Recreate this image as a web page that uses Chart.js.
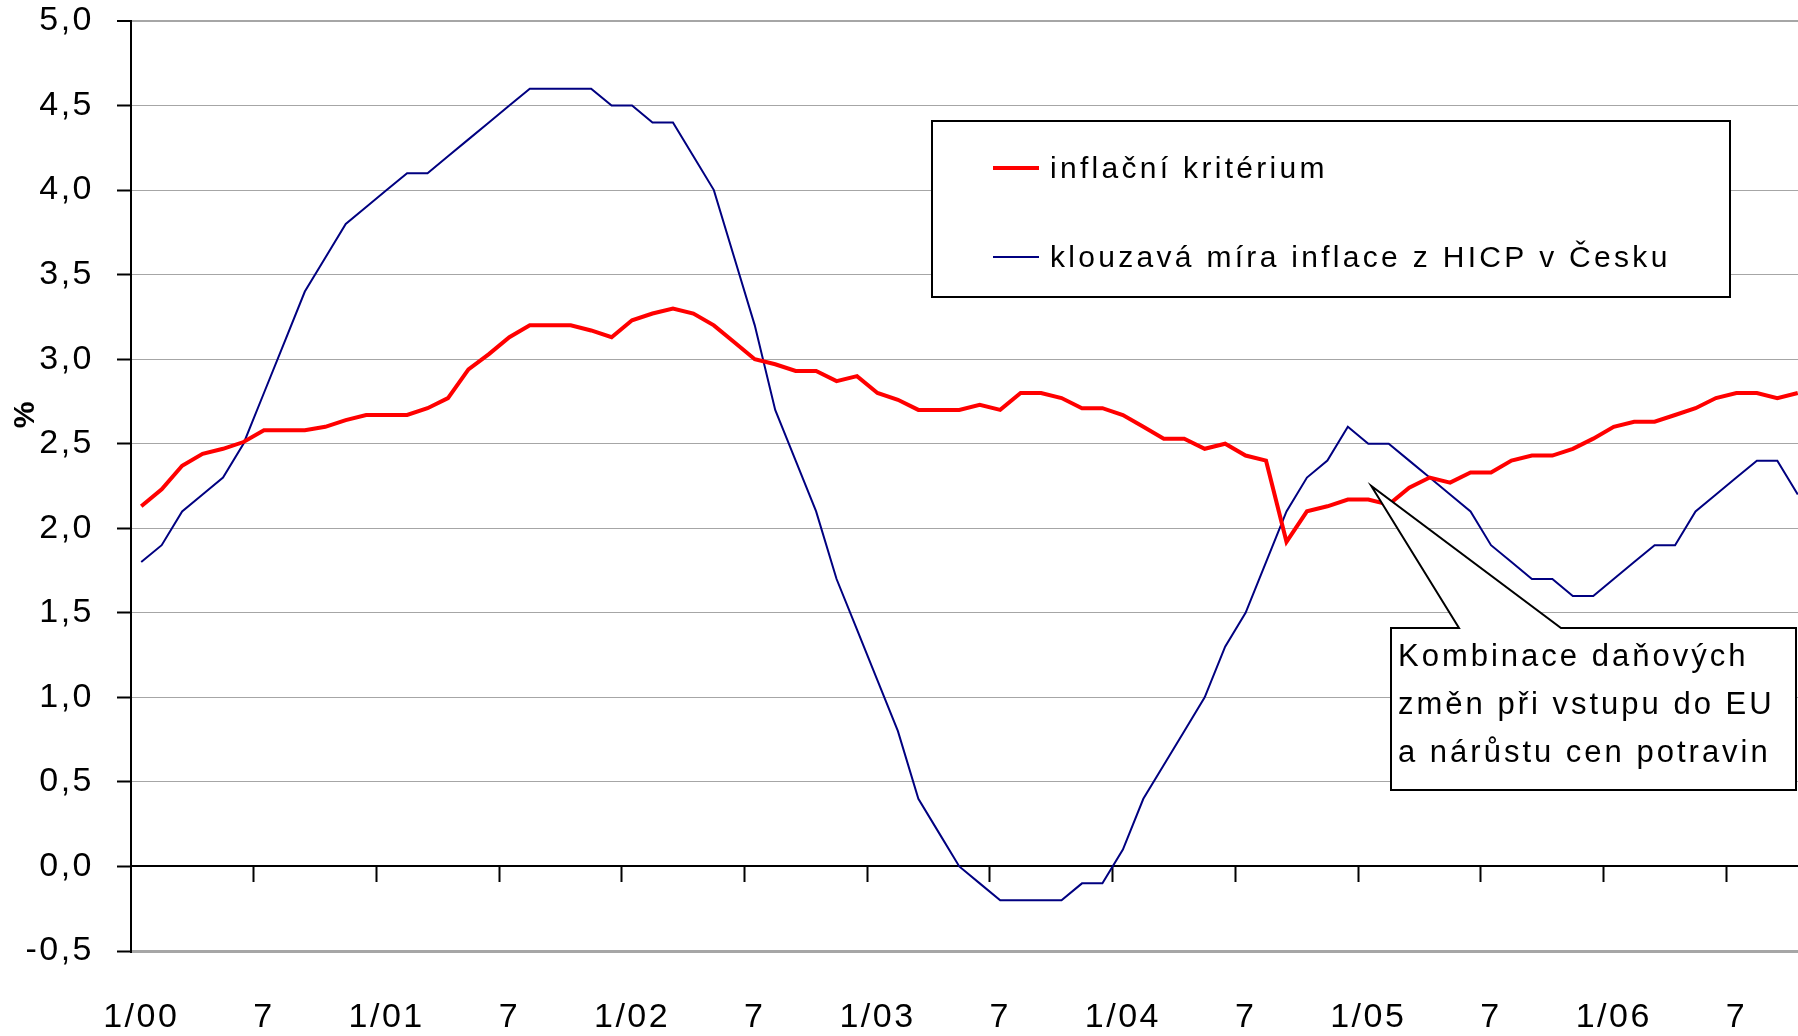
<!DOCTYPE html>
<html>
<head>
<meta charset="utf-8">
<script src="https://cdn.jsdelivr.net/npm/chart.js@4"></script>
<style>
  html, body { margin: 0; padding: 0; background: #fff; }
  /* the original picture is cut off a little on the right side */
  #wrap { width: 1798px; height: 1036px; overflow: hidden; position: relative; }
  #graf { position: absolute; left: 0; top: 0; }
</style>
</head>
<body>
<div id="wrap"><canvas id="graf" width="1808" height="1036"></canvas></div>
<script>
// months 1/2000 .. 10/2006
const months = [
  '1/00', '2/00', '3/00', '4/00', '5/00', '6/00', '7/00', '8/00', '9/00', '10/00', '11/00', '12/00',
  '1/01', '2/01', '3/01', '4/01', '5/01', '6/01', '7/01', '8/01', '9/01', '10/01', '11/01', '12/01',
  '1/02', '2/02', '3/02', '4/02', '5/02', '6/02', '7/02', '8/02', '9/02', '10/02', '11/02', '12/02',
  '1/03', '2/03', '3/03', '4/03', '5/03', '6/03', '7/03', '8/03', '9/03', '10/03', '11/03', '12/03',
  '1/04', '2/04', '3/04', '4/04', '5/04', '6/04', '7/04', '8/04', '9/04', '10/04', '11/04', '12/04',
  '1/05', '2/05', '3/05', '4/05', '5/05', '6/05', '7/05', '8/05', '9/05', '10/05', '11/05', '12/05',
  '1/06', '2/06', '3/06', '4/06', '5/06', '6/06', '7/06', '8/06', '9/06', '10/06'
];

// labels shown under the axis, one every 6 months
const axisLabels = ['1/00', '7', '1/01', '7', '1/02', '7', '1/03', '7', '1/04', '7', '1/05', '7', '1/06', '7'];

// inflační kritérium (%)
const kriterium = [
  2.13, 2.23, 2.37, 2.44, 2.47, 2.51, 2.58, 2.58, 2.58, 2.60, 2.64, 2.67,
  2.67, 2.67, 2.71, 2.77, 2.94, 3.03, 3.13, 3.20, 3.20, 3.20, 3.17, 3.13,
  3.23, 3.27, 3.30, 3.27, 3.20, 3.10, 3.00, 2.97, 2.93, 2.93, 2.87, 2.90,
  2.80, 2.76, 2.70, 2.70, 2.70, 2.73, 2.70, 2.80, 2.80, 2.77, 2.71, 2.71,
  2.67, 2.60, 2.53, 2.53, 2.47, 2.50, 2.43, 2.40, 1.92, 2.10, 2.13, 2.17,
  2.17, 2.14, 2.24, 2.30, 2.27, 2.33, 2.33, 2.40, 2.43, 2.43, 2.47, 2.53,
  2.60, 2.63, 2.63, 2.67, 2.71, 2.77, 2.80, 2.80, 2.77, 2.80
];

// klouzavá míra inflace z HICP v Česku (%)
const hicp = [
  1.8, 1.9, 2.1, 2.2, 2.3, 2.5, 2.8, 3.1, 3.4, 3.6, 3.8, 3.9,
  4.0, 4.1, 4.1, 4.2, 4.3, 4.4, 4.5, 4.6, 4.6, 4.6, 4.6, 4.5,
  4.5, 4.4, 4.4, 4.2, 4.0, 3.6, 3.2, 2.7, 2.4, 2.1, 1.7, 1.4,
  1.1, 0.8, 0.4, 0.2, 0.0, -0.1, -0.2, -0.2, -0.2, -0.2, -0.1, -0.1,
  0.1, 0.4, 0.6, 0.8, 1.0, 1.3, 1.5, 1.8, 2.1, 2.3, 2.4, 2.6,
  2.5, 2.5, 2.4, 2.3, 2.2, 2.1, 1.9, 1.8, 1.7, 1.7, 1.6, 1.6,
  1.7, 1.8, 1.9, 1.9, 2.1, 2.2, 2.3, 2.4, 2.4, 2.2
];

// callout text and the point it points at
const noteLines = ['Kombinace daňových', 'změn při vstupu do EU', 'a nárůstu cen potravin'];
const noteAt = { index: 60, value: 2.25 };

const FONT = '"Liberation Sans", Arial, sans-serif';

// legend box, callout and the "%" title, drawn by hand
const decor = {
  id: 'decor',
  beforeDraw(chart) {
    // the original text is spaced out a bit
    chart.ctx.letterSpacing = '2.5px';
  },
  afterDatasetsDraw(chart) {
    const ctx = chart.ctx;
    const xs = chart.scales.x, ys = chart.scales.y;
    ctx.save();

    // callout with a pointer to the start of 2005
    const ax = xs.getPixelForValue(noteAt.index) + 3;
    const ay = ys.getPixelForValue(noteAt.value);
    const bl = 1391, bt = 628, br = 1796, bb = 790;
    ctx.beginPath();
    ctx.moveTo(bl, bt);
    ctx.lineTo(1459, bt);
    ctx.lineTo(ax, ay);
    ctx.lineTo(1561, bt);
    ctx.lineTo(br, bt);
    ctx.lineTo(br, bb);
    ctx.lineTo(bl, bb);
    ctx.closePath();
    ctx.fillStyle = '#fff';
    ctx.fill();
    ctx.lineWidth = 2;
    ctx.strokeStyle = '#000';
    ctx.stroke();

    ctx.fillStyle = '#000';
    ctx.font = '31px ' + FONT;
    ctx.letterSpacing = '3px';
    ctx.textAlign = 'left';
    ctx.textBaseline = 'middle';
    noteLines.forEach((t, i) => ctx.fillText(t, 1398, 657 + i * 48));

    // legend
    ctx.fillStyle = '#fff';
    ctx.fillRect(932, 121, 798, 176);
    ctx.strokeRect(932, 121, 798, 176);
    ctx.font = '30px ' + FONT;
    ctx.letterSpacing = '3.3px';
    chart.data.datasets.forEach((ds, i) => {
      const ly = 168 + i * 89;
      ctx.beginPath();
      ctx.moveTo(993, ly);
      ctx.lineTo(1039, ly);
      ctx.strokeStyle = ds.borderColor;
      ctx.lineWidth = ds.borderWidth;
      ctx.stroke();
      ctx.fillStyle = '#000';
      ctx.fillText(ds.label, 1050, ly + 2);
    });

    // y axis title
    ctx.translate(26, ys.getPixelForValue(2.67));
    ctx.rotate(-Math.PI / 2);
    ctx.font = 'bold 30px ' + FONT;
    ctx.letterSpacing = '0px';
    ctx.textAlign = 'center';
    ctx.fillText('%', 0, 0);
    ctx.restore();
  }
};

let g_canvas = document.getElementById('graf');
let g_ctx = g_canvas.getContext('2d');

let data = {
  labels: months,
  datasets: [{
      label: 'inflační kritérium',
      data: kriterium,
      borderColor: '#ff0000',
      borderWidth: 4,
      pointRadius: 0,
      tension: 0
    },
    {
      label: 'klouzavá míra inflace z HICP v Česku',
      data: hicp,
      borderColor: '#000080',
      borderWidth: 2,
      pointRadius: 0,
      tension: 0
    }
  ]
};

let config = {
  type: 'line',
  data: data,
  options: {
    responsive: false,
    animation: false,
    devicePixelRatio: 1,
    layout: { padding: { top: 21, left: 0, right: 0, bottom: 0 } },
    plugins: {
      legend: { display: false },
      tooltip: { enabled: false }
    },
    scales: {
      // axis line at 0 with tick marks every 6 months
      x: {
        type: 'category',
        position: { y: 0 },
        offset: true,
        grid: {
          offset: true,
          drawOnChartArea: false,
          drawTicks: true,
          tickLength: 15,
          tickWidth: 2,
          tickColor: c => (c.index > 0 && c.index % 6 === 0) ? '#000' : 'rgba(0,0,0,0)'
        },
        border: { color: '#000', width: 2 },
        ticks: { display: false, autoSkip: false, padding: 0 },
        afterFit: s => { s.paddingTop = 0; s.paddingBottom = 0; }
      },
      // month labels at the bottom (invisible tick marks push them down)
      xl: {
        type: 'category',
        position: 'bottom',
        offset: true,
        grid: {
          drawOnChartArea: false,
          drawTicks: true,
          tickLength: 43,
          tickColor: 'rgba(0,0,0,0)'
        },
        border: { display: false },
        ticks: {
          autoSkip: false,
          maxRotation: 0,
          minRotation: 0,
          padding: 3,
          color: '#000',
          font: { family: FONT, size: 34 },
          callback: (v, i) => i % 6 === 0 ? axisLabels[i / 6] : ''
        },
        afterFit: s => { s.height = 85; }
      },
      y: {
        min: -0.5,
        max: 5.0,
        ticks: {
          stepSize: 0.5,
          padding: 23,
          color: '#000',
          font: { family: FONT, size: 34 },
          callback: v => v.toFixed(1).replace('.', ',')
        },
        grid: {
          color: c => (c.tick && c.tick.value === 0) ? '#000' : '#a6a6a6',
          lineWidth: c => {
            if (!c.tick) return 1;
            if (c.tick.value === -0.5) return 3;
            if (c.tick.value === 5) return 2;
            return 1;
          },
          tickColor: '#000',
          tickWidth: 2,
          tickLength: 14
        },
        border: { color: '#000', width: 2 },
        afterFit: s => { s.width = 131; s.paddingTop = 0; s.paddingBottom = 0; }
      }
    }
  },
  plugins: [decor]
};

let chart = new Chart(g_ctx, config);
</script>
</body>
</html>
